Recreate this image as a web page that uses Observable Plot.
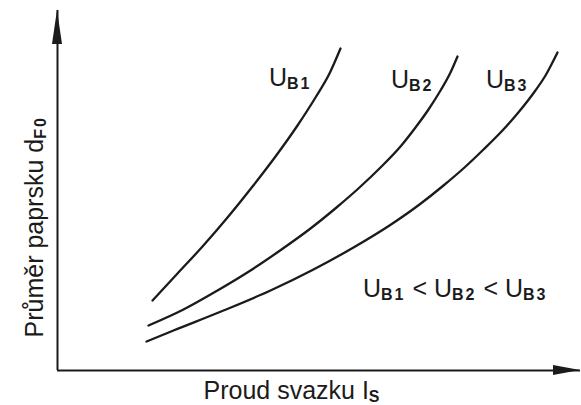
<!DOCTYPE html>
<html>
<head>
<meta charset="utf-8">
<script src="https://cdn.jsdelivr.net/npm/d3@7"></script>
<script src="https://cdn.jsdelivr.net/npm/@observablehq/plot@0.6"></script>
<style>
  html, body { margin: 0; padding: 0; background: #fff; }
</style>
</head>
<body>
<div id="chart"></div>
<script>
// Beam diameter versus beam current for three accelerating voltages (schematic units)
const seriesNames = ["U_{B1}", "U_{B2}", "U_{B3}"];

const currentB1  = [95, 120, 145, 170, 195, 218, 240, 258, 272, 283];
const diameterB1 = [70, 97, 124, 153, 184, 214, 245, 273, 297, 322];

const currentB2  = [91, 126, 160, 193, 224, 253, 279, 302, 324, 343, 358, 371, 383, 393, 400];
const diameterB2 = [45, 61, 80, 100, 121, 142, 163, 183, 204, 224, 243, 261, 280, 298, 314];

const currentB3  = [89, 116, 166, 213, 256, 296, 332, 362, 386, 407, 426, 444, 460, 475, 488, 500];
const diameterB3 = [29, 40, 60, 80, 101, 123, 145, 166, 185, 203, 221, 239, 257, 276, 295, 318];

const axisExtent = { current: 523, diameter: 360 };

const xTitle = "Proud svazku I_{S}";
const yTitle = "Průměr paprsku d_{F0}";
const relationLabel = "U_{B1} < U_{B2} < U_{B3}";

// long table for the line mark
const series = [
  { name: seriesNames[0], current: currentB1, diameter: diameterB1 },
  { name: seriesNames[1], current: currentB2, diameter: diameterB2 },
  { name: seriesNames[2], current: currentB3, diameter: diameterB3 }
];
const rows = series.flatMap(s => s.current.map((c, i) => ({ series: s.name, current: c, diameter: s.diameter[i] })));
const ends = series.map(s => ({ series: s.name, current: s.current.at(-1), diameter: s.diameter.at(-1) }));

const ink = "#1b1b1b";
const font = "Liberation Sans, Arial, Helvetica, sans-serif";

// filled arrowheads at the far ends of both axes
function arrowheads(index, { x, y }) {
  const g = d3.create("svg:g").attr("fill", ink);
  const x0 = x(0), y0 = y(0);
  const xe = x(axisExtent.current), ye = y(axisExtent.diameter);
  g.append("path").attr("d", `M${x0},${ye} L${x0 - 5},${ye + 34} L${x0 + 5},${ye + 34} Z`);
  g.append("path").attr("d", `M${xe},${y0} L${xe - 27},${y0 - 5} L${xe - 27},${y0 + 5} Z`);
  return g.node();
}

// curve labels sit up-left of each curve's upper end
const labelOffsets = [[-29, 37], [-24, 31], [-29, 35]];

const chart = Plot.plot({
  width: 581,
  height: 405,
  marginLeft: 57,
  marginRight: 1,
  marginTop: 10,
  marginBottom: 35,
  style: { background: "white", fontFamily: font, color: ink },
  x: { domain: [0, axisExtent.current], axis: null },
  y: { domain: [0, axisExtent.diameter], axis: null },
  marks: [
    Plot.ruleX([0], { stroke: ink, strokeWidth: 2 }),
    Plot.ruleY([0], { stroke: ink, strokeWidth: 2 }),
    arrowheads,
    Plot.line(rows, {
      x: "current", y: "diameter", z: "series",
      curve: "monotone-x", stroke: ink, strokeWidth: 2.3
    }),
    ...ends.map((d, i) => Plot.text([d], {
      x: "current", y: "diameter", text: "series",
      textAnchor: "end", lineAnchor: "bottom",
      dx: labelOffsets[i][0], dy: labelOffsets[i][1],
      fontSize: 25, fill: ink
    })),
    Plot.text([relationLabel], {
      text: d => d, frameAnchor: "bottom-right",
      textAnchor: "end", lineAnchor: "bottom",
      dx: -33, dy: -74, fontSize: 25, fill: ink
    }),
    Plot.text([xTitle], {
      text: d => d, frameAnchor: "bottom-left",
      textAnchor: "start", lineAnchor: "bottom",
      dx: 146, dy: 28, fontSize: 25, fill: ink
    }),
    Plot.text([yTitle], {
      text: d => d, frameAnchor: "bottom-left", rotate: -90,
      textAnchor: "start", lineAnchor: "bottom",
      dx: -15, dy: -33, fontSize: 25, fill: ink
    })
  ]
});

// turn "_{...}" segments into lowered subscript tspans
d3.select(chart).selectAll("text").each(function () {
  const raw = this.textContent;
  if (!raw.includes("_{")) return;
  const parts = raw.split(/(_\{[^}]*\})/).filter(s => s);
  this.textContent = "";
  const sel = d3.select(this);
  let lowered = false;
  for (const p of parts) {
    const sub = p.startsWith("_{");
    const t = sel.append("tspan").text(sub ? p.slice(2, -1) : p);
    if (sub) {
      t.attr("dy", 3).attr("font-size", 16).attr("font-weight", "bold").attr("letter-spacing", 2);
    } else if (lowered) {
      t.attr("dy", -3);
    }
    lowered = sub;
  }
});

document.getElementById("chart").appendChild(chart);
</script>
</body>
</html>
